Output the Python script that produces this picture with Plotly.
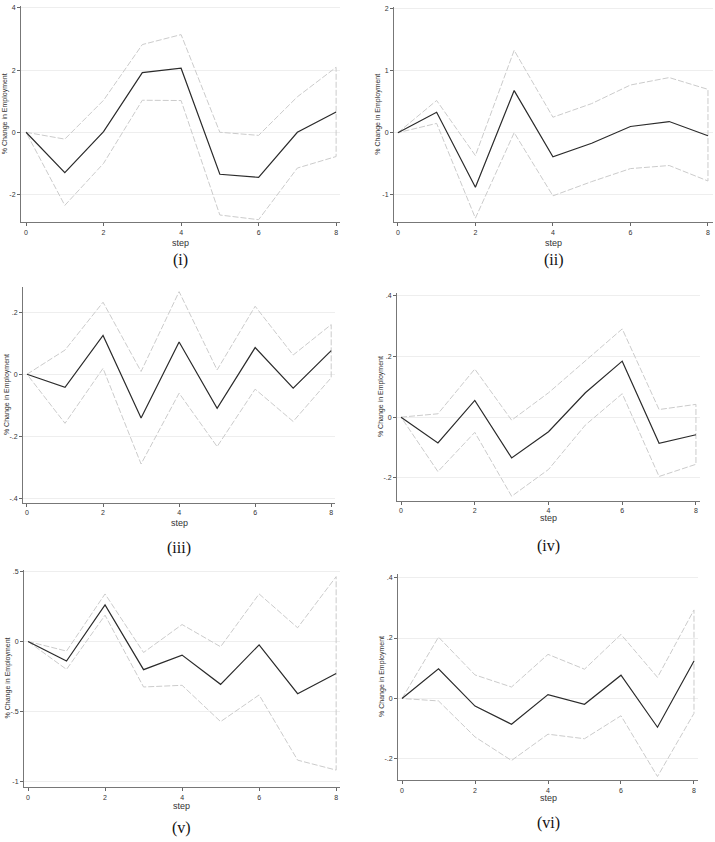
import plotly.graph_objects as go

W, H = 715, 842
steps = [0, 1, 2, 3, 4, 5, 6, 7, 8]

irf_i = [0, -1.30, 0.02, 1.92, 2.06, -1.35, -1.45, 0.00, 0.65]
up_i = [0, -0.22, 1.03, 2.82, 3.14, 0.00, -0.10, 1.14, 2.09]
lo_i = [0, -2.35, -1.00, 1.03, 1.02, -2.66, -2.81, -1.15, -0.78]

irf_ii = [0, 0.33, -0.88, 0.68, -0.39, -0.17, 0.10, 0.18, -0.05]
up_ii = [0, 0.52, -0.37, 1.33, 0.25, 0.47, 0.77, 0.89, 0.70]
lo_ii = [0, 0.15, -1.38, 0.00, -1.02, -0.79, -0.58, -0.53, -0.78]

irf_iii = [0, -0.042, 0.125, -0.141, 0.104, -0.110, 0.086, -0.045, 0.076]
up_iii = [0, 0.078, 0.232, 0.009, 0.266, 0.014, 0.219, 0.062, 0.160]
lo_iii = [0, -0.158, 0.019, -0.289, -0.061, -0.233, -0.048, -0.152, -0.011]

irf_iv = [0, -0.085, 0.055, -0.134, -0.048, 0.080, 0.184, -0.086, -0.058]
up_iv = [0, 0.011, 0.158, -0.010, 0.080, 0.185, 0.290, 0.025, 0.042]
lo_iv = [0, -0.179, -0.050, -0.260, -0.172, -0.026, 0.077, -0.195, -0.155]

irf_v = [0, -0.140, 0.262, -0.202, -0.098, -0.307, -0.024, -0.374, -0.229]
up_v = [0, -0.069, 0.340, -0.079, 0.121, -0.038, 0.340, 0.098, 0.464]
lo_v = [0, -0.200, 0.188, -0.326, -0.314, -0.574, -0.383, -0.850, -0.921]

irf_vi = [0, 0.098, -0.025, -0.085, 0.013, -0.019, 0.077, -0.095, 0.124]
up_vi = [0, 0.203, 0.078, 0.038, 0.146, 0.097, 0.212, 0.070, 0.293]
lo_vi = [0, -0.008, -0.127, -0.205, -0.118, -0.133, -0.057, -0.258, -0.049]

labels = ["(i)", "(ii)", "(iii)", "(iv)", "(v)", "(vi)"]
x_ticks = [0, 2, 4, 6, 8]
yticks = [
    ([-2, 0, 2, 4], ["-2", "0", "2", "4"]),
    ([-1, 0, 1, 2], ["-1", "0", "1", "2"]),
    ([-0.4, -0.2, 0, 0.2], ["-.4", "-.2", "0", ".2"]),
    ([-0.2, 0, 0.2, 0.4], ["-.2", "0", ".2", ".4"]),
    ([-1, -0.5, 0, 0.5], ["-1", "-.5", "0", ".5"]),
    ([-0.2, 0, 0.2, 0.4], ["-.2", "0", ".2", ".4"]),
]
series = [
    (irf_i, up_i, lo_i), (irf_ii, up_ii, lo_ii), (irf_iii, up_iii, lo_iii),
    (irf_iv, up_iv, lo_iv), (irf_v, up_v, lo_v), (irf_vi, up_vi, lo_vi),
]
# pixel boxes: x0, x1, ytop, ybottom ; ranges
boxes = [
    (21, 340, 4, 221, [-0.13, 8.1], [-2.9, 4.06]),
    (394, 713, 5, 221, [-0.1, 8.13], [-1.45, 2.03]),
    (23, 335, 286, 502, [-0.105, 8.1], [-0.414, 0.28]),
    (397, 700, 292, 500, [-0.11, 8.11], [-0.275, 0.407]),
    (24, 340, 569, 787, [-0.104, 8.1], [-1.043, 0.514]),
    (398, 698, 573, 780, [-0.11, 8.11], [-0.27, 0.413]),
]
step_y = [242, 242, 522, 517, 806, 798]
lab_y = [259, 259, 547, 545, 828, 823]


def px(x):
    return x / W


def py(y):
    return 1 - y / H


fig = go.Figure()
annotations = []
layout = {}
for k, ((irf, up, lo), (x0, x1, yt, yb, xr, yr)) in enumerate(zip(series, boxes)):
    n = k + 1
    xa = "x" if n == 1 else f"x{n}"
    ya = "y" if n == 1 else f"y{n}"
    ci_x = steps + steps[::-1]
    ci_y = up + lo[::-1]
    fig.add_trace(go.Scatter(x=ci_x, y=ci_y, mode="lines", xaxis=xa, yaxis=ya,
                             line=dict(color="#cbcbcb", width=1, dash="6px,2px"),
                             showlegend=False, hoverinfo="skip", cliponaxis=False))
    fig.add_trace(go.Scatter(x=steps, y=irf, mode="lines", xaxis=xa, yaxis=ya,
                             line=dict(color="#2b2b2b", width=1.2),
                             showlegend=False, cliponaxis=False))
    tv, tt = yticks[k]
    layout[f"xaxis{n}"] = dict(
        domain=[px(x0), px(x1)], range=xr, anchor=ya, tickvals=x_ticks,
        ticktext=[str(v) for v in x_ticks], ticks="outside", ticklen=3,
        tickcolor="#666", showline=True, linecolor="#777", linewidth=1,
        showgrid=False, zeroline=False, tickfont=dict(size=7, color="#333"),
    )
    layout[f"yaxis{n}"] = dict(
        domain=[py(yb), py(yt)], range=yr, anchor=xa, tickvals=tv,
        ticktext=tt, ticks="outside", ticklen=3, tickcolor="#666",
        showline=True, linecolor="#777", linewidth=1, showgrid=True,
        gridcolor="#eeeeee", gridwidth=1, zeroline=False,
        tickfont=dict(size=7, color="#333"),
    )
    cx = (x0 + x1) / 2
    annotations.append(dict(x=px(cx), y=py(step_y[k]), xref="paper", yref="paper",
                            text="step", showarrow=False, xanchor="center", yanchor="middle",
                            font=dict(size=9, color="#333", family="Liberation Sans, Arial")))
    annotations.append(dict(x=px(cx), y=py(lab_y[k]), xref="paper", yref="paper",
                            text=labels[k], showarrow=False, xanchor="center", yanchor="middle",
                            font=dict(size=16, color="#111", family="Liberation Serif, Times New Roman")))
    annotations.append(dict(x=px(x0 - 16), y=py((yt + yb) / 2), xref="paper", yref="paper",
                            text="% Change in Employment", showarrow=False, textangle=-90,
                            xanchor="center", yanchor="middle",
                            font=dict(size=7, color="#333", family="Liberation Sans, Arial")))

fig.update_layout(
    width=W, height=H, margin=dict(l=0, r=0, t=0, b=0),
    paper_bgcolor="white", plot_bgcolor="white",
    font=dict(family="Liberation Sans, Arial"),
    annotations=annotations, **layout,
)
fig.write_html("out.html", config={"displayModeBar": False},
               post_script="document.body.style.margin='0';")
